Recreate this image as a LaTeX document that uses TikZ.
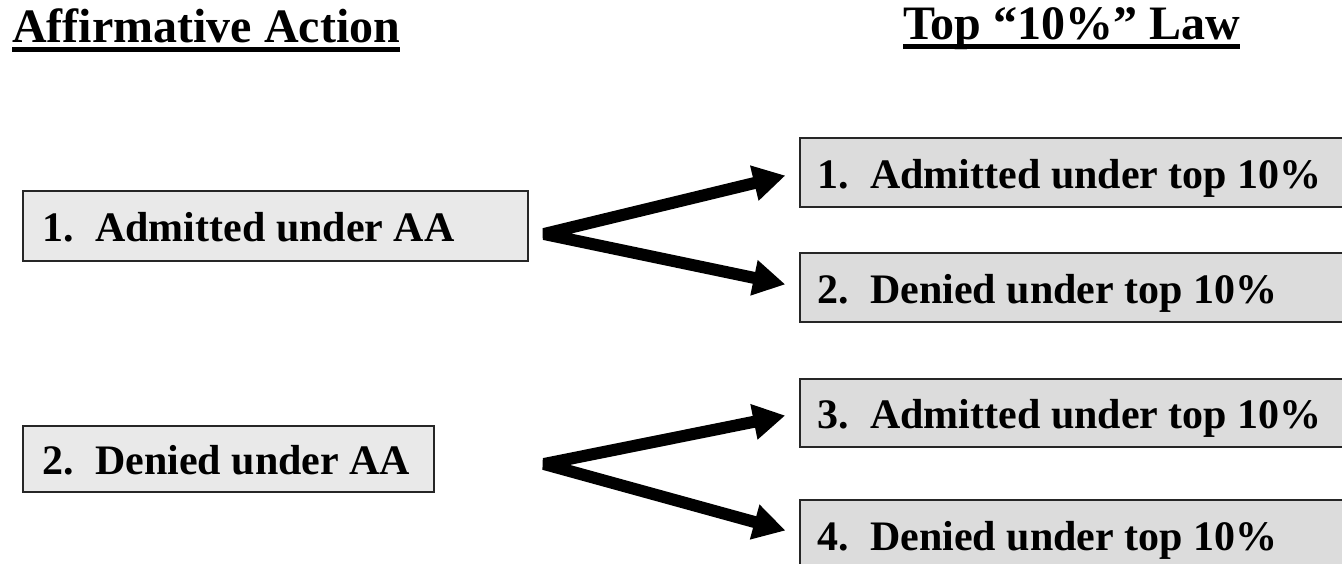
\documentclass[tikz,border=0pt]{standalone}
\usepackage{fontspec}
\setmainfont{Liberation Serif}
\usetikzlibrary{arrows.meta}
\definecolor{aafill}{HTML}{E9E9E9}
\definecolor{tenfill}{HTML}{DCDCDC}

\begin{document}
\begin{tikzpicture}[x=1pt, y=-1pt,
		heading/.style={font=\fontsize{48}{56}\selectfont\bfseries, inner sep=0pt, anchor=base west},
		box/.style={draw=black!85, line width=1.5pt, anchor=north west, font=\fontsize{42}{50}\selectfont\bfseries,
			align=flush left, inner xsep=20pt, inner ysep=0pt, text height=34pt, text depth=2pt},
		aabox/.style={box, fill=aafill, minimum height=70pt},
		tenbox/.style={box, fill=tenfill, minimum height=69pt, inner xsep=18pt},
		flow/.style={{Triangle[length=32pt, width=34pt]}-{Triangle[length=32pt, width=34pt]}, line width=12pt, shorten <=14pt, shorten >=14pt, line join=bevel}]
			\clip (0, 0) rectangle (1342, 563);
			%%
			\node[heading] (aatitle) at (12, 42) {Affirmative Action};
			\node[heading] (tentitle) at (903, 39) {Top “10\%” Law};
			\draw[line width=5pt] ([yshift=-7pt]aatitle.base west) -- ([yshift=-7pt]aatitle.base east);
			\draw[line width=5pt] ([yshift=-7.5pt]tentitle.base west) -- ([yshift=-7.5pt]tentitle.base east);
			%%
			\node[aabox, text width=465pt] (aa1) at (22, 190) {1.\ \ Admitted under AA};
			\node[aabox, text width=371pt, minimum height=66pt] (aa2) at (22, 425) {2.\ \ Denied under AA};
			%%
			\node[tenbox, text width=600pt] (ten1) at (799, 137) {1.\ \ Admitted under top 10\%};
			\node[tenbox, text width=600pt] (ten2) at (799, 252) {2.\ \ Denied under top 10\%};
			\node[tenbox, text width=600pt, minimum height=68pt] (ten3) at (799, 378) {3.\ \ Admitted under top 10\%};
			\node[tenbox, text width=600pt] (ten4) at (799, 499) {4.\ \ Denied under top 10\%};
			%%
			\coordinate (fork1) at (544, 234);
			\coordinate (fork2) at (544, 464);
			\draw[flow] (ten1.west) -- (fork1) -- (ten2.west);
			\draw[flow] (ten3.west) -- (fork2) -- (ten4.west);
		\end{tikzpicture}
\end{document}
